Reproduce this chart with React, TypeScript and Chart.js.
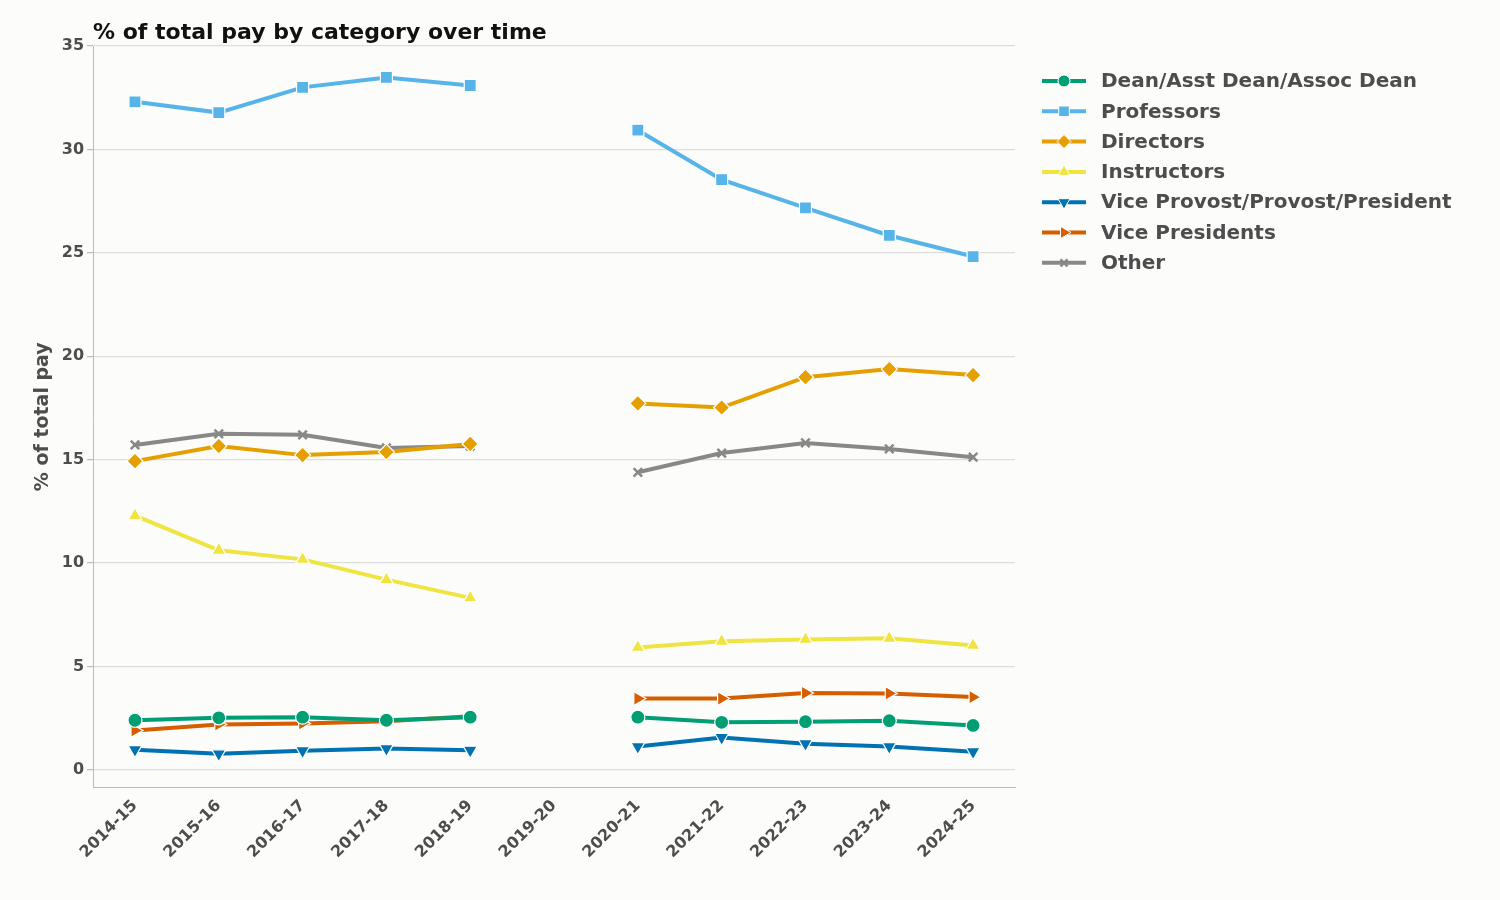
import React, { useEffect, useRef } from "react";
import { Chart, registerables } from "chart.js";
import * as helpersMod from "chart.js/helpers";
Chart.register(...registerables);

const categories = ["2014-15","2015-16","2016-17","2017-18","2018-19","2019-20","2020-21","2021-22","2022-23","2023-24","2024-25"];
const dean = [2.4,2.52,2.55,2.4,2.55,null,2.55,2.3,2.33,2.38,2.15];
const professors = [32.3,31.78,33.0,33.48,33.09,null,30.93,28.54,27.17,25.84,24.82];
const directors = [14.93,15.66,15.22,15.37,15.76,null,17.72,17.52,18.99,19.38,19.09];
const instructors = [12.29,10.62,10.18,9.2,8.32,null,5.92,6.22,6.31,6.36,6.02];
const viceProvost = [0.98,0.78,0.93,1.03,0.95,null,1.13,1.57,1.27,1.13,0.88];
const vicePresidents = [1.91,2.2,2.25,2.35,2.6,null,3.45,3.45,3.72,3.7,3.52];
const other = [15.71,16.25,16.2,15.57,15.66,null,14.39,15.32,15.81,15.52,15.12];
const yTicks = [0,5,10,15,20,25,30,35];

const series = [
  { label: "Dean/Asst Dean/Assoc Dean", data: dean, color: "#009E73", style: "circle", rot: 0, r: 7 },
  { label: "Professors", data: professors, color: "#56B4E9", style: "rect", rot: 0, r: 8.5 },
  { label: "Directors", data: directors, color: "#E69F00", style: "rectRot", rot: 0, r: 8 },
  { label: "Instructors", data: instructors, color: "#F0E442", style: "triangle", rot: 0, r: 8 },
  { label: "Vice Provost/Provost/President", data: viceProvost, color: "#0072B2", style: "triangle", rot: 180, r: 8 },
  { label: "Vice Presidents", data: vicePresidents, color: "#D55E00", style: "triangle", rot: 90, r: 8 },
  { label: "Other", data: other, color: "#888888", style: "crossRot", rot: 0, r: 6 },
];

const FONT = "'DejaVu Sans', sans-serif";

export default function App() {
  const ref = useRef<HTMLCanvasElement>(null);
  useEffect(() => {
    document.body.style.margin = "0";
    const overlay = {
      id: "overlay",
      afterDraw(chart: any) {
        const ctx = chart.ctx;
        ctx.save();
        ctx.fillStyle = "#111";
        ctx.font = `bold 22px ${FONT}`;
        ctx.textBaseline = "middle";
        ctx.fillText("% of total pay by category over time", 93, 33);
        series.forEach((s, i) => {
          const y = 81 + i * 30.3;
          const x0 = 1042;
          ctx.strokeStyle = s.color;
          ctx.lineWidth = 4;
          ctx.beginPath();
          ctx.moveTo(x0, y);
          ctx.lineTo(x0 + 44, y);
          ctx.stroke();
          ctx.fillStyle = s.color;
          ctx.strokeStyle = s.style === "crossRot" ? s.color : "#ffffff";
          ctx.lineWidth = s.style === "crossRot" ? 2.5 : 1;
          helpersMod.drawPoint(ctx, { pointStyle: s.style, radius: s.r - 1, rotation: s.rot, borderWidth: ctx.lineWidth } as any, x0 + 22, y);
          ctx.fillStyle = "#4d4d4d";
          ctx.font = `bold 20px ${FONT}`;
          ctx.fillText(s.label, 1101, y + 1);
        });
        ctx.restore();
      },
    };
    const chart = new Chart(ref.current!, {
      type: "line",
      data: {
        labels: categories,
        datasets: series.map((s) => ({
          label: s.label,
          data: s.data,
          borderColor: s.color,
          backgroundColor: s.color,
          borderWidth: 4,
          pointStyle: s.style as any,
          pointRotation: s.rot,
          pointRadius: s.r,
          pointBorderColor: s.style === "crossRot" ? s.color : "#ffffff",
          pointBorderWidth: s.style === "crossRot" ? 2.5 : 1.2,
          spanGaps: false,
          tension: 0,
        })),
      },
      options: {
        responsive: false,
        animation: false,
        layout: { padding: { left: 28, right: 485, top: 46, bottom: 35 } },
        plugins: {
          legend: { display: false },
          tooltip: { enabled: false },
        },
        scales: {
          x: {
            offset: true,
            grid: { display: false, drawTicks: true, tickColor: "#bbb", tickLength: 6 },
            border: { color: "#bbb" },
            ticks: { color: "#4d4d4d", font: { family: FONT, size: 16, weight: "bold" }, maxRotation: 45, minRotation: 45, autoSkip: false },
          },
          y: {
            min: -0.85,
            max: 35,
            afterBuildTicks: (axis: any) => { axis.ticks = yTicks.map((v) => ({ value: v })); },
            grid: { color: "#dddddd", lineWidth: 1.2, tickColor: "#bbb", tickLength: 6 },
            border: { color: "#bbb" },
            ticks: { color: "#4d4d4d", font: { family: FONT, size: 16, weight: "bold" } },
            title: { display: true, text: "% of total pay", color: "#4d4d4d", font: { family: FONT, size: 19, weight: "bold" } },
          },
        },
      },
      plugins: [
        { id: "bg", beforeDraw(c: any) { const x = c.ctx; x.save(); x.fillStyle = "#fcfcfa"; x.fillRect(0, 0, c.width, c.height); x.restore(); } },
        overlay,
      ],
    });
    return () => chart.destroy();
  }, []);
  return <canvas ref={ref} width={1500} height={900} style={{ display: "block" }} />;
}
